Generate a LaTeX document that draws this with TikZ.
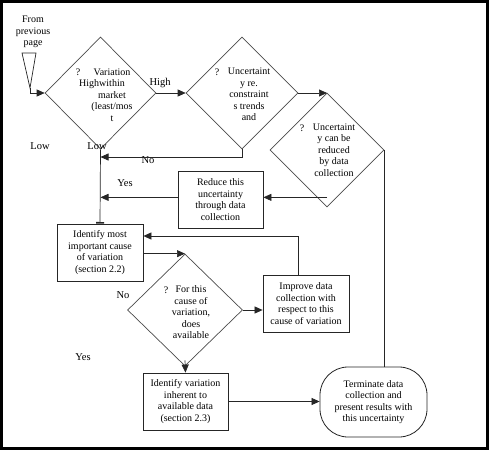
\documentclass[tikz,border=0pt]{standalone}
\usepackage{fontspec}
\setmainfont{Liberation Serif}
\usetikzlibrary{shapes.geometric,arrows.meta,calc}
\begin{document}
\begin{tikzpicture}[x=1pt,y=-1pt,
  line/.style={draw=black!85, line width=0.7pt},
  arr/.style={line, -{Triangle[length=8pt,width=7pt]}},
  dia/.style={diamond, draw=black!70, line width=0.7pt, inner sep=0pt},
  box/.style={rectangle, draw=black!85, line width=0.8pt, minimum width=86pt, minimum height=57pt, align=center, inner sep=0pt, font=\fontsize{10}{11.5}\selectfont},
  txt/.style={align=center, inner sep=0pt, font=\fontsize{10}{11.5}\selectfont},
  lbl/.style={inner sep=0pt, font=\fontsize{10.5}{12}\selectfont},
]
\useasboundingbox (0,0) rectangle (489,450);
\fill[white] (0,0) rectangle (489,450);
\draw[line width=2.5pt] (1.25,1.25) rectangle (487.5,448.5);

% start funnel
\node[txt] (from) at (33,32) {From\\previous\\page};
\draw[line, fill=white] (22,53) -- (36,53) -- (30,88) -- cycle;
\coordinate (fa) at (30,88);

% diamonds
\node[dia, minimum width=111pt, minimum height=112pt] (d1) at (100.5,93) {};
\node[dia, minimum width=112pt, minimum height=112pt] (d2) at (242,93) {};
\node[dia, minimum width=114pt, minimum height=114pt] (d3) at (327,150) {};
\node[dia, minimum width=115pt, minimum height=112pt] (d4) at (185,310) {};

% diamond texts
\node[txt] (q1) at (78,72) {?};
\node[txt] (t1) at (112,95) {Variation\\\llap{High}within\\market\\(least/mos\\t};
\node[txt] (q2) at (217,72) {?};
\node[txt] (t2) at (249,94.5) {Uncertaint\\y re.\\constraint\\s trends\\and};
\node[txt] (q3) at (302,128) {?};
\node[txt] (t3) at (334,150) {Uncertaint\\y can be\\reduced\\by data\\collection};
\node[txt] (q4) at (166,290) {?};
\node[txt] (t4) at (191,312.5) {For this\\cause of\\variation,\\does\\available};

% boxes
\node[box] (b1) at (100,252.5) {Identify most\\important cause\\of variation\\(section 2.2)};
\node[box, minimum width=85pt] (b2) at (220.5,199.5) {Reduce this\\uncertainty\\through data\\collection};
\node[box] (b3) at (306,303.5) {Improve data\\collection with\\respect to this\\cause of variation};
\node[box, minimum width=85pt] (b4) at (185.5,401.5) {Identify variation\\inherent to\\available data\\(section 2.3)};
\node[draw=black!85, line width=0.8pt, rectangle, rounded corners=28pt, minimum width=107pt, minimum height=70pt, align=center, inner sep=0pt, font=\fontsize{10}{11.5}\selectfont] (term) at (373.5,402) {Terminate data\\collection and\\present results with\\this uncertainty};

% labels
\node[lbl] (lhigh) at (160,83) {High};
\node[lbl] (llow1) at (40,146) {Low};
\node[lbl] (llow2) at (97,146) {Low};
\node[lbl] (lno1) at (148,160) {No};
\node[lbl] (lyes1) at (125,183) {Yes};
\node[lbl] (lno2) at (123,295) {No};
\node[lbl] (lyes2) at (83,357) {Yes};

% connectors
\draw[arr] (fa) -- (fa |- d1.west) -- (d1.west);
\draw[arr] (d1.east) -- (d2.west);
\draw[arr] (d2.east) -- (d2.east -| d3.north) ;
\coordinate (nojoin) at (d1.south |- 0,157);
\draw[arr] (d2.south) -- (d2.south |- nojoin) -- (nojoin);
\draw[line, -{Bar[width=8pt,line width=1.6pt]}] (d1.south) -- (b1.north);
\coordinate (d3in) at ([yshift=10pt]d3.south);
\draw[arr] (d3in) -- (d3in -| b2.east);
\coordinate (b2l) at (b2.west |- d3in);
\draw[arr] (b2l) -- (b2l -| d1.south);
\draw[line] (d3.east) -- (d3.east |- term.north);
\coordinate (b3top) at (298,0);
\draw[arr] (b3top |- b3.north) -- (b3top |- 0,236) -- (b1.east |- 0,236);
\draw[arr] (b1.east |- d4.north) -- (d4.north);
\draw[arr] (d4.east) -- (d4.east -| b3.west);
\draw[arr] ([yshift=6pt]d4.south) -- (b4.north);
\draw[arr] (b4.east) -- (b4.east -| term.west);
\end{tikzpicture}
\end{document}
